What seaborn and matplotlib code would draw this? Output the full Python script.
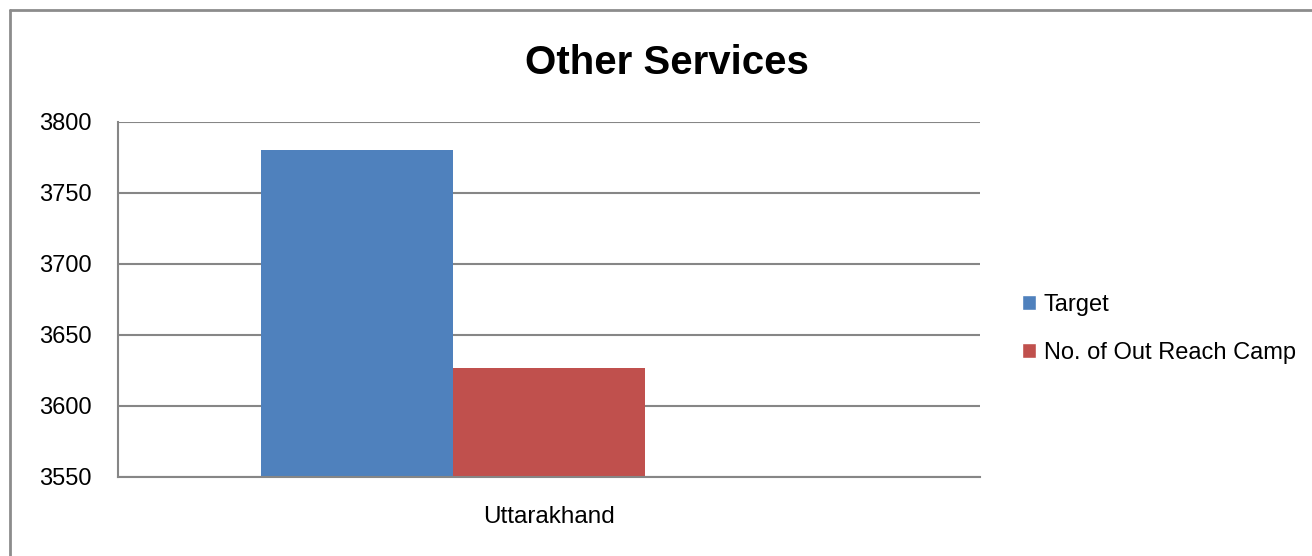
import matplotlib
matplotlib.use("Agg")
import matplotlib.pyplot as plt
from matplotlib.lines import Line2D
from matplotlib.patches import Patch
import seaborn as sns
import pandas as pd

# chart data
categories = ["Uttarakhand"]
series = ["Target", "No. of Out Reach Camp", ""]
values = [3780, 3627, float("nan")]
colors = ["#4F81BD", "#C0504D", "#9BBB59"]
yticks = [3550, 3600, 3650, 3700, 3750, 3800]

sns.set_style("white")
plt.rcParams["font.family"] = ["Liberation Sans", "DejaVu Sans"]
plt.rcParams["text.color"] = "black"
plt.rcParams["xtick.color"] = "black"
plt.rcParams["ytick.color"] = "black"

df = pd.DataFrame({
    "Category": categories * len(series),
    "Series": series,
    "Value": values,
})

fig = plt.figure(figsize=(13.12, 5.56), dpi=100)
ax = fig.add_axes([0.0899, 0.1421, 0.747 - 0.0899, 0.7806 - 0.1421])

sns.barplot(data=df, x="Category", y="Value", hue="Series", hue_order=series,
            palette=colors, width=0.668, saturation=1, linewidth=0,
            ax=ax, legend=False)

ax.set_ylim(3550, 3800)
ax.set_xlim(-0.5, 0.5)
ax.set_yticks(yticks)
ax.yaxis.grid(True, color="#868686", linewidth=1.5)
ax.set_axisbelow(True)
ax.set_xlabel("")
ax.set_ylabel("")
for side in ["top", "right"]:
    ax.spines[side].set_visible(False)
for side in ["left", "bottom"]:
    ax.spines[side].set_color("#868686")
    ax.spines[side].set_linewidth(1.5)
ax.tick_params(axis="y", length=0, pad=19, labelsize=17)
ax.tick_params(axis="x", length=0, pad=21, labelsize=17.5)

fig.text(0.508, 0.886, "Other Services", ha="center", va="center",
         fontsize=29, fontweight="bold")

handles = [Patch(facecolor=colors[0], label=series[0]),
           Patch(facecolor=colors[1], label=series[1])]
fig.legend(handles=handles, loc="center left", bbox_to_anchor=(0.772, 0.409),
           frameon=False, fontsize=17, handlelength=0.6, handleheight=0.6,
           handletextpad=0.3, labelspacing=1.1, borderaxespad=0)

# outer chart border
fig.add_artist(Line2D([10 / 1312, 10 / 1312], [0, 1 - 10 / 556],
                      transform=fig.transFigure, color="#8c8c8c", linewidth=2))
fig.add_artist(Line2D([10 / 1312, 1], [1 - 10 / 556, 1 - 10 / 556],
                      transform=fig.transFigure, color="#8c8c8c", linewidth=2))

fig.savefig("out.png", dpi=100)
plt.close(fig)
